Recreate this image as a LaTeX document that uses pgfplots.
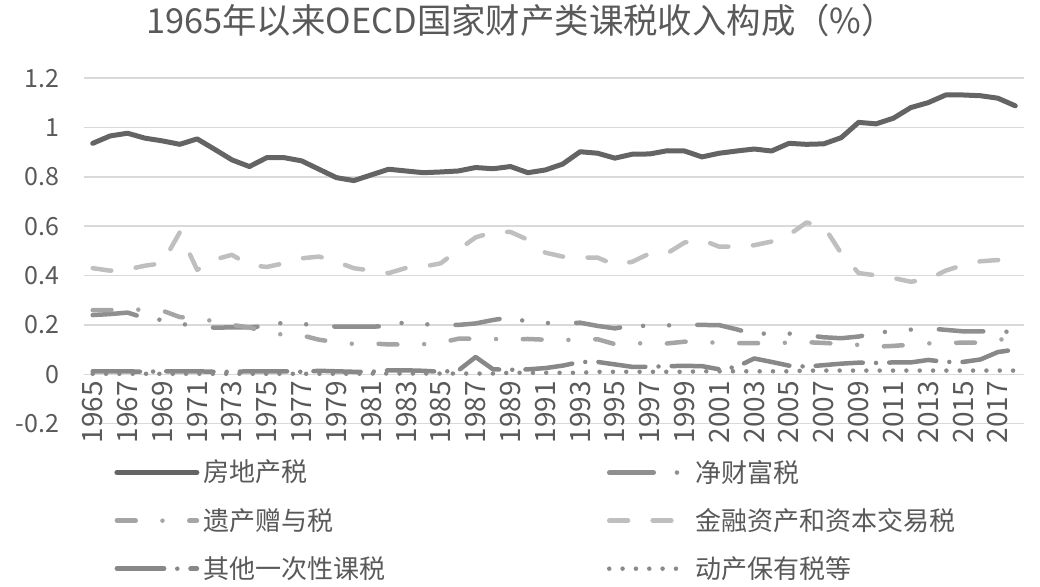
\documentclass[border=0pt]{standalone}
\usepackage{fontspec}
\setmainfont{Noto Sans CJK SC}
\usepackage{pgfplots}
\usepackage{pgfplotstable}
\pgfplotsset{compat=1.18}

\definecolor{txt}{HTML}{595959}
\definecolor{gridc}{HTML}{D9D9D9}
\definecolor{colE}{HTML}{646464}
\definecolor{colA}{HTML}{8F8F8F}
\definecolor{colB}{HTML}{A5A5A5}
\definecolor{colF}{HTML}{BFBFBF}
\definecolor{colC}{HTML}{888888}
\definecolor{colD}{HTML}{8A8A8A}

% E 房地产税, A 净财富税, B 遗产赠与税, F 金融资产和资本交易税, C 其他一次性课税, D 动产保有税等
\pgfplotstableread{
year E     A     B     F     C     D
1965 0.936 0.240 0.260 0.430 0.012 0.002
1966 0.966 0.244 0.260 0.420 0.012 0.002
1967 0.977 0.250 0.262 0.425 0.012 0.002
1968 0.957 0.228 0.262 0.440 0.010 0.002
1969 0.946 0.220 0.258 0.450 0.012 0.002
1970 0.932 0.205 0.232 0.575 0.012 0.002
1971 0.954 0.195 0.226 0.423 0.012 0.002
1972 0.912 0.189 0.215 0.465 0.010 0.002
1973 0.869 0.190 0.200 0.484 0.010 0.002
1974 0.842 0.190 0.190 0.443 0.012 0.002
1975 0.878 0.196 0.170 0.435 0.012 0.002
1976 0.878 0.210 0.160 0.450 0.012 0.002
1977 0.865 0.204 0.158 0.470 0.010 0.002
1978 0.831 0.198 0.140 0.477 0.014 0.002
1979 0.797 0.193 0.130 0.456 0.012 0.002
1980 0.785 0.193 0.123 0.430 0.010 0.002
1981 0.808 0.193 0.125 0.420 0.010 0.003
1982 0.831 0.195 0.121 0.410 0.016 0.003
1983 0.824 0.212 0.121 0.431 0.016 0.003
1984 0.817 0.203 0.122 0.436 0.014 0.003
1985 0.820 0.200 0.128 0.450 0.010 0.003
1986 0.824 0.200 0.144 0.504 0.015 0.003
1987 0.838 0.206 0.144 0.555 0.070 0.003
1988 0.833 0.220 0.143 0.576 0.020 0.003
1989 0.842 0.231 0.142 0.577 0.018 0.006
1990 0.817 0.212 0.143 0.545 0.020 0.006
1991 0.828 0.208 0.140 0.493 0.025 0.006
1992 0.852 0.206 0.139 0.477 0.035 0.006
1993 0.902 0.209 0.140 0.473 0.050 0.006
1994 0.896 0.196 0.142 0.473 0.050 0.010
1995 0.876 0.186 0.122 0.443 0.040 0.010
1996 0.892 0.198 0.125 0.456 0.030 0.010
1997 0.893 0.195 0.126 0.490 0.030 0.010
1998 0.906 0.198 0.125 0.490 0.033 0.010
1999 0.905 0.201 0.132 0.534 0.034 0.010
2000 0.881 0.200 0.130 0.544 0.033 0.012
2001 0.896 0.199 0.128 0.517 0.020 0.012
2002 0.905 0.182 0.126 0.518 0.030 0.012
2003 0.913 0.162 0.126 0.523 0.064 0.012
2004 0.905 0.167 0.126 0.538 0.050 0.012
2005 0.936 0.165 0.128 0.565 0.035 0.012
2006 0.932 0.159 0.130 0.615 0.031 0.015
2007 0.934 0.150 0.127 0.600 0.037 0.015
2008 0.959 0.146 0.123 0.490 0.043 0.015
2009 1.021 0.153 0.119 0.410 0.047 0.015
2010 1.015 0.166 0.112 0.401 0.046 0.015
2011 1.038 0.177 0.115 0.390 0.048 0.015
2012 1.081 0.181 0.120 0.375 0.048 0.015
2013 1.101 0.186 0.125 0.385 0.058 0.015
2014 1.132 0.180 0.127 0.420 0.050 0.015
2015 1.132 0.174 0.128 0.443 0.050 0.015
2016 1.129 0.174 0.128 0.458 0.060 0.015
2017 1.119 0.175 0.140 0.463 0.090 0.015
2018 1.088 0.170 0.145 0.463 0.100 0.015
}\datatable

\begin{document}
\begin{tikzpicture}
\begin{axis}[
  scale only axis, width=470pt, height=172.7pt,
  xmin=1964.5, xmax=2018.5, ymin=-0.2, ymax=1.2,
  axis x line*=middle, axis y line*=left,
  axis line style={draw=none},
  major tick length=0pt,
  hide obscured x ticks=false, hide obscured y ticks=false,
  ytick={-0.2,0,0.2,0.4,0.6,0.8,1,1.2},
  yticklabels={-0.2,0,0.2,0.4,0.6,0.8,1,1.2},
  xtick={1965,1967,...,2017},
  /pgf/number format/1000 sep={},
  /pgf/number format/assume math mode=true,
  xticklabel style={rotate=90, anchor=east, font=\fontsize{14}{14}\selectfont, text=txt},
  yticklabel style={anchor=east, xshift=-9pt, font=\fontsize{12.5}{12.5}\selectfont, text=txt},
  ymajorgrids, grid style={line width=0.75pt, color=gridc},
  no marks,
  title={1965年以来OECD国家财产类课税收入构成（\%）},
  title style={at={(0.465,1)}, anchor=center, yshift=23pt, font=\fontsize{17.2}{17.2}\selectfont, text=txt},
  legend columns=2,
  legend cell align=left,
  legend image code/.code={\draw[#1, line cap=round] (0pt,0pt) -- (40pt,0pt);},
  legend style={draw=none, fill=none, at={(0,0)}, anchor=north west, xshift=12pt, yshift=-14pt,
    font=\fontsize{13}{13}\selectfont, text=txt, row sep=7.5pt,
    /tikz/every even column/.append style={column sep=108.8pt}},
]
\addplot[colE, line width=2.5pt, line cap=round, line join=round] table[x=year,y=E]{\datatable};
\addlegendentry{房地产税}
\addplot[colA, line width=2.25pt, line cap=round, line join=round,
  dash pattern=on 22.25pt off 11.6pt on 0pt off 13pt on 0pt off 14.1pt] table[x=year,y=A]{\datatable};
\addlegendentry{净财富税}
\addplot[colB, line width=2.25pt, line cap=round, line join=round,
  dash pattern=on 9.4pt off 13.4pt on 0pt off 13.4pt] table[x=year,y=B]{\datatable};
\addlegendentry{遗产赠与税}
\addplot[colF, line width=2.25pt, line cap=round, line join=round,
  dash pattern=on 9.4pt off 12.3pt] table[x=year,y=F]{\datatable};
\addlegendentry{金融资产和资本交易税}
\addplot[colC, line width=2.25pt, line cap=round, line join=round,
  dash pattern=on 23.6pt off 6.6pt on 0pt off 6.6pt] table[x=year,y=C]{\datatable};
\addlegendentry{其他一次性课税}
\addplot[colD, line width=2.25pt, line cap=round, line join=round,
  dash pattern=on 0pt off 6.67pt] table[x=year,y=D]{\datatable};
\addlegendentry{动产保有税等}
\end{axis}
\pgfresetboundingbox
\path ([shift={(-42pt,-81.2pt)}]current axis.south west) rectangle ([shift={(478pt,211.8pt)}]current axis.south west);
\end{tikzpicture}
\end{document}
